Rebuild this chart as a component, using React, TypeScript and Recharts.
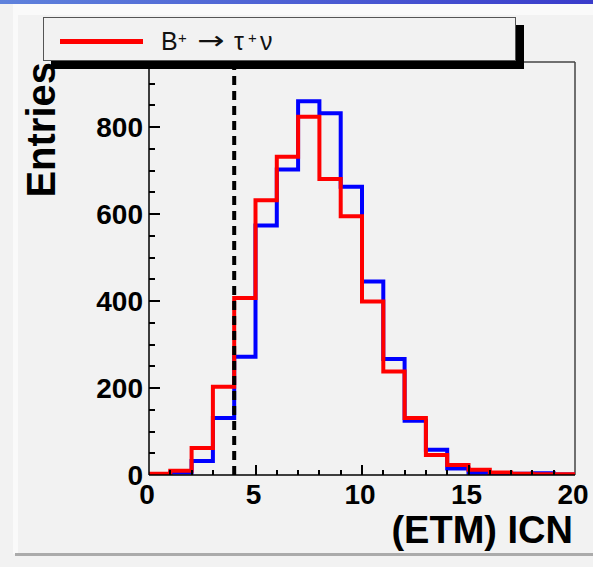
import React from "react";
import { LineChart, Line, XAxis, YAxis, ReferenceLine } from "recharts";

const binLow = [0, 1, 2, 3, 4, 5, 6, 7, 8, 9, 10, 11, 12, 13, 14, 15, 16, 17, 18, 19];
const xMax = 20;
const blueCounts = [2, 6, 32, 131, 272, 574, 703, 860, 832, 663, 445, 267, 125, 58, 15, 5, 2, 3, 4, 1];
const redCounts = [3, 10, 62, 203, 407, 632, 732, 824, 681, 595, 399, 238, 131, 46, 23, 12, 6, 3, 2, 2];
const cutValue = 4;
const xMajorTicks = [0, 5, 10, 15, 20];
const yMajorTicks = [0, 200, 400, 600, 800];
const yMax = 950;
const xTitle = "(ETM) ICN";
const yTitle = "Entries";

const data = [
  ...binLow.map((x, i) => ({ x, blue: blueCounts[i], red: redCounts[i] })),
  { x: xMax, blue: blueCounts[blueCounts.length - 1], red: redCounts[redCounts.length - 1] },
];

const FONT = '"Liberation Sans", Arial, Helvetica, sans-serif';

const CHART_W = 593;
const CHART_H = 567;
const MARGIN = { top: 62, right: 18, left: 0, bottom: 0 };
const Y_AXIS_W = 149;
const X_AXIS_H = 92;
const PLOT_LEFT = MARGIN.left + Y_AXIS_W;
const PLOT_TOP = MARGIN.top;
const PLOT_W = CHART_W - MARGIN.left - MARGIN.right - Y_AXIS_W;
const PLOT_H = CHART_H - MARGIN.top - MARGIN.bottom - X_AXIS_H;
const PLOT_BOTTOM = PLOT_TOP + PLOT_H;
const xPix = (v: number) => PLOT_LEFT + (v / xMax) * PLOT_W;
const yPix = (v: number) => PLOT_BOTTOM - (v / yMax) * PLOT_H;

const YT = ({ v, major }: { v: number; major?: boolean }) => (
  <div
    style={{
      position: "absolute",
      left: PLOT_LEFT,
      top: Math.round(yPix(v)) - 1,
      width: major ? 11 : 6,
      height: 2,
      background: "#000",
    }}
  />
);

const XT = ({ v, major }: { v: number; major?: boolean }) => {
  const len = major ? 10 : 5;
  return (
    <div
      style={{
        position: "absolute",
        left: Math.round(xPix(v)) - 1,
        top: PLOT_BOTTOM - len,
        width: 2,
        height: len,
        background: "#000",
      }}
    />
  );
};

const YLabel = (props: any) => (
  <text x={Number(props.x) - 6} y={Number(props.y) + 10} textAnchor="end" fontFamily={FONT} fontWeight="bold" fontSize={28} fill="#000">
    {props.payload.value}
  </text>
);

const XLabel = (props: any) => (
  <text x={Number(props.x) - 2} y={Number(props.y) + 29} textAnchor="middle" fontFamily={FONT} fontWeight="bold" fontSize={28} fill="#000">
    {props.payload.value}
  </text>
);

export default function App() {
  return (
    <div style={{ position: "absolute", left: 0, top: 0, width: 593, height: 567, background: "#f2f2f2", overflow: "hidden", fontFamily: FONT }}>
      <div style={{ position: "absolute", left: 0, top: 0, width: 593, height: 4, background: "linear-gradient(to right, #5f82dc, #3a3ccb)" }} />
      <div style={{ position: "absolute", left: 13, top: 4, width: 580, height: 11, background: "#fafafa" }} />
      <div style={{ position: "absolute", left: 13, top: 4, width: 5, height: 550, background: "#fafafa" }} />
      <div style={{ position: "absolute", left: 15, top: 553, width: 578, height: 3, background: "#ababab" }} />

      <div style={{ position: "absolute", left: 0, top: 0 }}>
        <LineChart width={CHART_W} height={CHART_H} data={data} margin={MARGIN}>
          <XAxis
            dataKey="x"
            type="number"
            domain={[0, xMax]}
            ticks={xMajorTicks}
            interval={0}
            allowDataOverflow
            height={X_AXIS_H}
            tickSize={0}
            tickMargin={0}
            tickLine={false}
            axisLine={false}
            tick={(p: any) => <XLabel {...p} />}
          />
          <YAxis
            type="number"
            domain={[0, yMax]}
            ticks={yMajorTicks}
            interval={0}
            allowDataOverflow
            width={Y_AXIS_W}
            tickSize={0}
            tickMargin={0}
            tickLine={false}
            axisLine={false}
            tick={(p: any) => <YLabel {...p} />}
          />
          <ReferenceLine y={yMax} stroke="#444" strokeWidth={1.5} />
          <ReferenceLine x={xMax} stroke="#444" strokeWidth={1.5} />
          <Line
            type="stepAfter"
            dataKey="blue"
            stroke="#0000ff"
            strokeWidth={4}
            dot={false}
            activeDot={false}
            strokeLinejoin="miter"
            strokeLinecap="butt"
            isAnimationActive={false}
          />
          <Line
            type="stepAfter"
            dataKey="red"
            stroke="#ff0000"
            strokeWidth={4}
            dot={false}
            activeDot={false}
            strokeLinejoin="miter"
            strokeLinecap="butt"
            isAnimationActive={false}
          />
          <ReferenceLine x={cutValue} stroke="#000" strokeWidth={4} strokeDasharray="9 6" />
          <ReferenceLine y={0} stroke="#000" strokeWidth={1.5} />
          <ReferenceLine x={0} stroke="#000" strokeWidth={1.5} />
        </LineChart>
      </div>

      <YT v={50} />
      <YT v={100} />
      <YT v={150} />
      <YT v={200} major />
      <YT v={250} />
      <YT v={300} />
      <YT v={350} />
      <YT v={400} major />
      <YT v={450} />
      <YT v={500} />
      <YT v={550} />
      <YT v={600} major />
      <YT v={650} />
      <YT v={700} />
      <YT v={750} />
      <YT v={800} major />
      <YT v={850} />
      <YT v={900} />

      <XT v={1} />
      <XT v={2} />
      <XT v={3} />
      <XT v={4} />
      <XT v={5} major />
      <XT v={6} />
      <XT v={7} />
      <XT v={8} />
      <XT v={9} />
      <XT v={10} major />
      <XT v={11} />
      <XT v={12} />
      <XT v={13} />
      <XT v={14} />
      <XT v={15} major />
      <XT v={16} />
      <XT v={17} />
      <XT v={18} />
      <XT v={19} />

      <svg width={593} height={567} style={{ position: "absolute", left: 0, top: 0, pointerEvents: "none" }}>
        <text x={573} y={543} textAnchor="end" fontFamily={FONT} fontWeight="bold" fontSize={38} fill="#000">
          {xTitle}
        </text>
        <text
          transform="translate(55, 62) rotate(-90)"
          x={0}
          y={0}
          textAnchor="end"
          fontFamily={FONT}
          fontWeight="bold"
          fontSize={40}
          fill="#000"
        >
          {yTitle}
        </text>
      </svg>

      <div
        style={{
          position: "absolute",
          left: 42.7,
          top: 17.3,
          width: 473,
          height: 43.5,
          boxSizing: "border-box",
          border: "1.5px solid #555",
          background: "#f2f2f2",
          boxShadow: "8px 8px 0 #000",
        }}
      />
      <div style={{ position: "absolute", left: 60, top: 38.5, width: 83, height: 5, background: "#ff0000" }} />
      <div style={{ position: "absolute", left: 0, top: 0, width: 593, height: 80, color: "#111", fontSize: 25, lineHeight: "25px" }}>
        <span style={{ position: "absolute", left: 161, top: 29 }}>B</span>
        <span style={{ position: "absolute", left: 178, top: 25, fontSize: 15 }}>+</span>
        <span style={{ position: "absolute", left: 197, top: 28, fontFamily: '"DejaVu Sans", sans-serif', fontSize: 25, display: "inline-block", transform: "scaleX(1.3)", transformOrigin: "left center" }}>→</span>
        <span style={{ position: "absolute", left: 234, top: 29 }}>τ</span>
        <span style={{ position: "absolute", left: 248, top: 25, fontSize: 15 }}>+</span>
        <span style={{ position: "absolute", left: 260, top: 29 }}>ν</span>
      </div>
    </div>
  );
}
